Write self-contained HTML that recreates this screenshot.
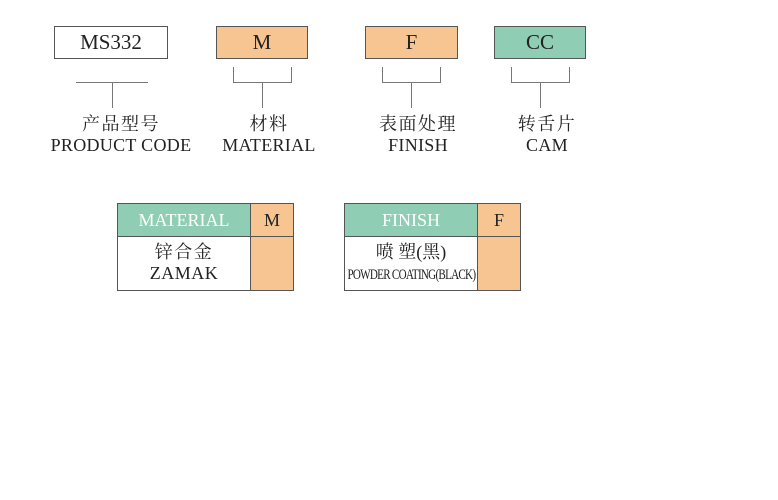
<!DOCTYPE html>
<html><head><meta charset="utf-8"><style>
body{margin:0;width:778px;height:500px;background:#fff;position:relative;overflow:hidden;font-family:"Liberation Serif","Noto Serif CJK SC",serif;color:#222}
.b{position:absolute;box-sizing:border-box;border:1px solid #555;text-align:center;font-size:21px;line-height:30px;height:33px;top:26px}
.l{position:absolute;background:#777}
.t{position:absolute;text-align:center;font-size:18px;line-height:21px;width:200px;letter-spacing:0.3px}
.t .z{letter-spacing:1.5px}
.o{background:#f7c592}.g{background:#8fcdb4}
.c{position:absolute;box-sizing:border-box;border:1px solid #555;text-align:center}
</style></head><body>
<div class="b" style="left:54px;width:114px">MS332</div>
<div class="b o" style="left:216px;width:92px">M</div>
<div class="b o" style="left:365px;width:93px">F</div>
<div class="b g" style="left:494px;width:92px">CC</div>

<div class="l" style="left:76px;top:82px;width:72px;height:1px"></div>
<div class="l" style="left:112px;top:82px;width:1px;height:26px"></div>

<div class="l" style="left:233px;top:67px;width:1px;height:16px"></div>
<div class="l" style="left:291px;top:67px;width:1px;height:16px"></div>
<div class="l" style="left:233px;top:82px;width:59px;height:1px"></div>
<div class="l" style="left:262px;top:82px;width:1px;height:26px"></div>

<div class="l" style="left:382px;top:67px;width:1px;height:16px"></div>
<div class="l" style="left:440px;top:67px;width:1px;height:16px"></div>
<div class="l" style="left:382px;top:82px;width:59px;height:1px"></div>
<div class="l" style="left:411px;top:82px;width:1px;height:26px"></div>

<div class="l" style="left:511px;top:67px;width:1px;height:16px"></div>
<div class="l" style="left:569px;top:67px;width:1px;height:16px"></div>
<div class="l" style="left:511px;top:82px;width:59px;height:1px"></div>
<div class="l" style="left:540px;top:82px;width:1px;height:26px"></div>

<div class="t" style="left:21px;top:114px"><span class="z">产品型号</span><br>PRODUCT CODE</div>
<div class="t" style="left:169px;top:114px"><span class="z">材料</span><br>MATERIAL</div>
<div class="t" style="left:318px;top:114px"><span class="z">表面处理</span><br>FINISH</div>
<div class="t" style="left:447px;top:114px"><span class="z">转舌片</span><br>CAM</div>

<div class="c g" style="left:117px;top:203px;width:134px;height:34px;color:#fff;font-size:18px;line-height:32px">MATERIAL</div>
<div class="c o" style="left:250px;top:203px;width:44px;height:34px;font-size:18px;line-height:32px">M</div>
<div class="c" style="left:117px;top:236px;width:134px;height:55px;font-size:18px;line-height:21px;padding-top:5px;letter-spacing:0.5px"><span style="letter-spacing:1.5px">锌合金</span><br>ZAMAK</div>
<div class="c o" style="left:250px;top:236px;width:44px;height:55px"></div>

<div class="c g" style="left:344px;top:203px;width:134px;height:34px;color:#fff;font-size:18px;line-height:32px">FINISH</div>
<div class="c o" style="left:477px;top:203px;width:44px;height:34px;font-size:18px;line-height:32px">F</div>
<div class="c" style="left:344px;top:236px;width:134px;height:55px;font-size:18px;line-height:21px;padding-top:5px">喷 塑(黑)<br><span style="display:inline-block;font-size:15px;letter-spacing:-1px;transform:scaleX(0.74);white-space:nowrap;margin-left:-30px;margin-right:-30px">POWDER COATING(BLACK)</span></div>
<div class="c o" style="left:477px;top:236px;width:44px;height:55px"></div>
</body></html>
